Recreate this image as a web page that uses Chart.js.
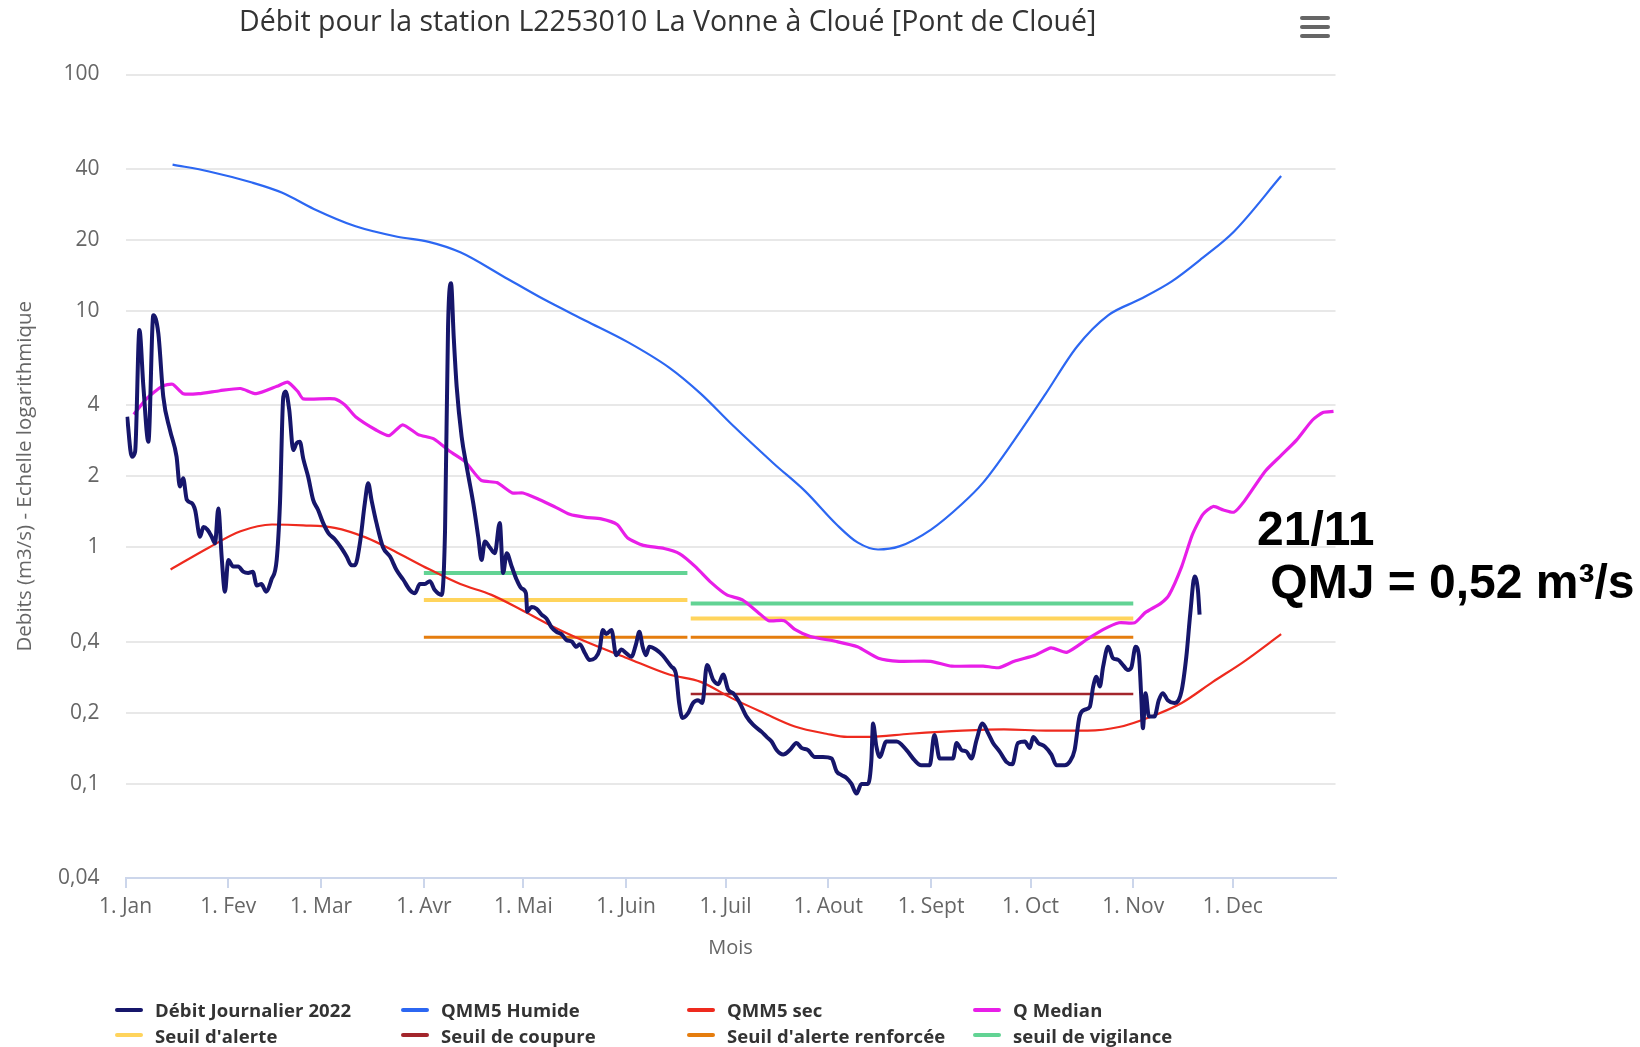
<!DOCTYPE html>
<html>
<head>
<meta charset="utf-8">
<script src="https://cdn.jsdelivr.net/npm/chart.js@4.4.1/dist/chart.umd.min.js"></script>
<style>
  body { margin: 0; background: #fff; width: 1640px; height: 1047px; overflow: hidden; position: relative; font-family: "Open Sans", sans-serif; }
  #wrap { position: absolute; left: 0; top: 0; width: 1340px; height: 1047px; }
  #menu { position: absolute; left: 1300px; top: 16px; width: 30px; }
  #menu span { display: block; height: 4px; background: #666; border-radius: 2px; margin-bottom: 5px; }
  #legend { position: absolute; left: 115px; top: 997px; display: grid; grid-template-columns: repeat(4, 286px); }
  .item { display: flex; align-items: center; height: 25.5px; font-weight: bold; font-size: 18.5px; color: #333; white-space: nowrap; letter-spacing: 0.1px; }
  .item i { display: inline-block; width: 28px; height: 4px; border-radius: 2px; margin-right: 12px; }
  #note { position: absolute; left: 1257px; top: 502px; font-family: "Liberation Sans", Arial, sans-serif; font-weight: bold; font-size: 48px; line-height: 53px; color: #000; white-space: pre; }
</style>
</head>
<body>
<div id="wrap"><canvas id="chart" width="1340" height="1047"></canvas></div>
<div id="menu"><span></span><span></span><span></span></div>
<div id="legend"></div>
<div id="note">21/11
 QMJ = 0,52 m³/s</div>
<script>
// axes
const monthDays = [0, 31, 59, 90, 120, 151, 181, 212, 243, 273, 304, 334];
const monthLabels = ["1. Jan", "1. Fev", "1. Mar", "1. Avr", "1. Mai", "1. Juin", "1. Juil", "1. Aout", "1. Sept", "1. Oct", "1. Nov", "1. Dec"];
const yTicks = [0.04, 0.1, 0.2, 0.4, 1, 2, 4, 10, 20, 40, 100];
const yTickLabels = ["0,04", "0,1", "0,2", "0,4", "1", "2", "4", "10", "20", "40", "100"];

// débit journalier 2022 (jour de l'année, m3/s)
const debitDays = [0.5, 1.9, 2.9, 4.2, 5.4, 6.9, 8.4, 9.9, 11.4, 13.4, 15.4, 16.4, 17.4, 18.5, 20, 21, 22.5, 23.5, 24.7, 26, 27, 28, 29, 30, 31, 32.5, 34, 35.5, 37, 38.4, 39.6, 41, 42.4, 44, 45.6, 46.6, 47.6, 48.3, 49.4, 50.6, 51.6, 52.6, 53.6, 55.1, 56.6, 58.1, 59.6, 61.2, 63.2, 65.2, 66.7, 68.2, 69.2, 70.7, 72.2, 73.2, 74.2, 75.7, 77.7, 79.8, 81.8, 83.8, 85.8, 87.3, 88.8, 90.3, 91.8, 93.3, 95.4, 96.4, 97.3, 98.2, 99, 99.9, 101.4, 102.9, 104.9, 106.4, 107.4, 108.4, 109.9, 111.4, 112.9, 113.9, 115, 116.5, 118, 119.5, 120.8, 121.2, 122.5, 124, 125.5, 127, 128.5, 130, 131.5, 133, 134.6, 136, 137, 138.6, 140, 141.6, 143, 144, 145, 146.6, 148, 149.6, 151, 152.6, 154, 155, 156, 157, 158, 160, 162, 164.7, 166, 167, 168, 169.7, 171.2, 172.7, 174, 175.4, 177.3, 178.8, 180.3, 181.8, 183.3, 185.3, 187.3, 189.3, 191.9, 193.4, 194.9, 196.4, 198.4, 200.4, 202.4, 203.9, 205.9, 207.9, 210.4, 213, 214.5, 216, 217.5, 219, 220.5, 222, 224, 225, 225.5, 226.5, 227.5, 229.5, 232.6, 235.6, 238, 240, 242.6, 244, 245.6, 247.6, 249.6, 250.7, 252.2, 253.7, 255.2, 256.7, 258.5, 260.2, 261.7, 263.7, 265.7, 267.5, 269.2, 271.3, 272.8, 273.8, 275.3, 277.3, 279.3, 280.8, 283.3, 284.8, 286.3, 287.8, 289.4, 290.9, 291.9, 292.9, 293.9, 294.9, 296.4, 297.9, 299.4, 300.9, 302.4, 303.4, 304.7, 305.7, 306.4, 306.9, 307.7, 308.7, 310.4, 311.7, 312.9, 314.4, 316.4, 318.5, 320, 321.2, 322.5, 323.5, 324];
const debitValues = [3.57, 2.42, 2.54, 8.3, 4.78, 2.8, 9.6, 8.05, 4.34, 3.14, 2.42, 1.81, 1.96, 1.59, 1.54, 1.44, 1.11, 1.22, 1.19, 1.11, 1.04, 1.46, 0.915, 0.65, 0.885, 0.83, 0.83, 0.79, 0.78, 0.79, 0.69, 0.70, 0.65, 0.73, 0.885, 1.54, 4.34, 4.56, 3.81, 2.58, 2.76, 2.8, 2.38, 1.99, 1.59, 1.44, 1.27, 1.15, 1.08, 0.99, 0.915, 0.84, 0.84, 1.04, 1.54, 1.87, 1.59, 1.27, 1.0, 0.915, 0.80, 0.73, 0.66, 0.64, 0.70, 0.70, 0.72, 0.66, 0.63, 1.2, 8.6, 13.1, 7.8, 4.78, 2.94, 2.2, 1.54, 1.11, 0.885, 1.06, 1.0, 0.945, 1.27, 0.78, 0.945, 0.83, 0.73, 0.67, 0.64, 0.535, 0.56, 0.55, 0.52, 0.50, 0.46, 0.44, 0.43, 0.406, 0.40, 0.38, 0.39, 0.357, 0.334, 0.34, 0.369, 0.448, 0.43, 0.448, 0.35, 0.37, 0.357, 0.345, 0.39, 0.44, 0.38, 0.35, 0.38, 0.37, 0.35, 0.313, 0.294, 0.22, 0.19, 0.199, 0.22, 0.226, 0.22, 0.318, 0.275, 0.264, 0.29, 0.25, 0.242, 0.22, 0.193, 0.178, 0.166, 0.158, 0.151, 0.139, 0.133, 0.139, 0.149, 0.142, 0.139, 0.13, 0.13, 0.128, 0.113, 0.109, 0.106, 0.1, 0.091, 0.1, 0.1, 0.126, 0.18, 0.144, 0.13, 0.151, 0.151, 0.139, 0.126, 0.12, 0.12, 0.161, 0.128, 0.128, 0.128, 0.149, 0.139, 0.137, 0.128, 0.153, 0.18, 0.164, 0.149, 0.137, 0.124, 0.121, 0.149, 0.151, 0.142, 0.158, 0.149, 0.144, 0.133, 0.12, 0.12, 0.124, 0.139, 0.193, 0.206, 0.212, 0.258, 0.284, 0.258, 0.313, 0.38, 0.34, 0.335, 0.318, 0.303, 0.31, 0.38, 0.35, 0.234, 0.172, 0.242, 0.193, 0.193, 0.226, 0.242, 0.226, 0.22, 0.245, 0.345, 0.527, 0.753, 0.66, 0.52];

// QMM5 humide
const humideDays = [14.2, 25.2, 37.9, 47.3, 56.8, 69.4, 82, 91.5, 101, 113.6, 126.2, 138.8, 151.4, 164, 173.5, 183, 195.6, 205, 214.5, 220.8, 227, 233.4, 243, 252.4, 258.7, 268, 277.6, 287, 296.5, 306, 315.5, 325, 334.4, 348.6];
const humideValues = [41.6, 38.9, 35, 31.6, 27, 22.8, 20.6, 19.6, 17.7, 14.1, 11.2, 9.1, 7.4, 5.76, 4.47, 3.3, 2.26, 1.73, 1.25, 1.05, 0.98, 1.01, 1.19, 1.53, 1.88, 2.83, 4.47, 7.06, 9.6, 11.2, 13.3, 16.8, 21.7, 37.2];

// QMM5 sec
const secDays = [13.6, 25.2, 34.7, 44.2, 53.6, 63.1, 72.6, 82, 91.5, 101, 110.4, 119.9, 129.3, 138.8, 151.4, 164, 173.5, 183, 192.4, 201.9, 211.4, 217.7, 224, 236.6, 252.4, 265, 277.6, 290.2, 299.7, 309.1, 318.6, 328, 337.5, 348.6];
const secValues = [0.807, 1.0, 1.17, 1.25, 1.24, 1.21, 1.1, 0.95, 0.81, 0.70, 0.63, 0.54, 0.46, 0.40, 0.34, 0.29, 0.27, 0.23, 0.20, 0.175, 0.163, 0.158, 0.158, 0.163, 0.168, 0.17, 0.168, 0.168, 0.174, 0.192, 0.22, 0.27, 0.33, 0.43];

// Q médian
const medianDays = [2.5, 6.3, 11, 14.2, 17.4, 22.1, 28.4, 34.7, 39.4, 45.7, 48.9, 52, 53.6, 63.1, 66.2, 69.4, 75.7, 79.5, 83.6, 88.3, 93, 97.8, 102.5, 107.3, 112, 116.7, 119.9, 124.6, 129.3, 134, 138.8, 143.5, 148.3, 151.4, 156.2, 162.5, 167.2, 171.9, 176.7, 181.4, 186.1, 190.9, 194, 198.7, 201.9, 206.6, 214.5, 220.8, 227.1, 233.4, 242.9, 249.2, 258.7, 263.4, 268.1, 274.4, 279.2, 283.9, 290.2, 295, 299.7, 304.4, 307.6, 312.3, 314.8, 318.6, 321.8, 325, 328.1, 331.2, 334.4, 337.5, 343.8, 348.6, 353.3, 358, 361.2, 364.4];
const medianValues = [3.65, 4.25, 4.8, 4.9, 4.47, 4.47, 4.6, 4.7, 4.47, 4.8, 5.0, 4.56, 4.25, 4.25, 4.0, 3.57, 3.13, 2.97, 3.3, 3.0, 2.88, 2.55, 2.3, 1.92, 1.88, 1.7, 1.7, 1.6, 1.49, 1.38, 1.34, 1.32, 1.25, 1.1, 1.02, 0.99, 0.94, 0.83, 0.71, 0.63, 0.6, 0.53, 0.49, 0.49, 0.45, 0.42, 0.40, 0.38, 0.34, 0.33, 0.33, 0.315, 0.315, 0.31, 0.33, 0.35, 0.376, 0.36, 0.41, 0.45, 0.48, 0.48, 0.53, 0.58, 0.63, 0.83, 1.13, 1.38, 1.49, 1.44, 1.41, 1.57, 2.1, 2.45, 2.85, 3.45, 3.72, 3.76];

// seuils : deux périodes (1/04 - 19/06, 20/06 - 31/10)
const seuilStarts = [90, 170.5];
const seuilEnds = [169.5, 304];
const alerteValues = [0.60, 0.50];
const coupureValues = [null, 0.24];
const renforceeValues = [0.417, 0.417];
const vigilanceValues = [0.78, 0.58];

function pts(days, values) {
    return days.map((d, i) => ({ x: d, y: values[i] }));
}

function seuil(values) {
    const out = [];
    values.forEach((v, i) => {
        if (v === null) return;
        out.push({ x: seuilStarts[i], y: v }, { x: seuilEnds[i], y: v }, { x: seuilEnds[i], y: null });
    });
    return out;
}

const series = [
    { label: "Débit Journalier 2022", data: pts(debitDays, debitValues), borderColor: "#16166b", borderWidth: 4, cubicInterpolationMode: "monotone" },
    { label: "QMM5 Humide", data: pts(humideDays, humideValues), borderColor: "#2c67f2", borderWidth: 2.2, cubicInterpolationMode: "monotone" },
    { label: "QMM5 sec", data: pts(secDays, secValues), borderColor: "#ee2a1e", borderWidth: 2.2, cubicInterpolationMode: "monotone" },
    { label: "Q Median", data: pts(medianDays, medianValues), borderColor: "#e81ee8", borderWidth: 3.2, tension: 0.2 },
    { label: "Seuil d'alerte", data: seuil(alerteValues), borderColor: "#ffd45c", borderWidth: 4 },
    { label: "Seuil de coupure", data: seuil(coupureValues), borderColor: "#a3262c", borderWidth: 2.5 },
    { label: "Seuil d'alerte renforcée", data: seuil(renforceeValues), borderColor: "#e57d0e", borderWidth: 3 },
    { label: "seuil de vigilance", data: seuil(vigilanceValues), borderColor: "#62d394", borderWidth: 4 }
];

series.forEach(s => {
    s.pointRadius = 0;
    s.fill = false;
    s.spanGaps = false;
    s.borderCapStyle = "butt";
});

const tickFont = { family: "Open Sans", size: 21 };

new Chart(document.getElementById("chart").getContext("2d"), {
    type: "line",
    data: { datasets: series },
    options: {
        responsive: false,
        animation: false,
        devicePixelRatio: 1,
        layout: { padding: { left: 0, right: 4.5, top: 0, bottom: 79 } },
        plugins: {
            legend: { display: false },
            tooltip: { enabled: false },
            title: {
                display: true,
                text: "Débit pour la station L2253010 La Vonne à Cloué [Pont de Cloué]",
                color: "#333",
                font: { family: "Open Sans", size: 28.5, weight: "normal" },
                padding: { top: 6, bottom: 34.3 }
            }
        },
        scales: {
            x: {
                type: "linear",
                min: 0,
                max: 365,
                afterBuildTicks: scale => { scale.ticks = monthDays.map(v => ({ value: v })); },
                afterFit: scale => { scale.height = 90; },
                ticks: {
                    callback: (v, i) => monthLabels[i],
                    color: "#666",
                    font: tickFont,
                    autoSkip: false,
                    maxRotation: 0,
                    padding: 6
                },
                grid: { drawOnChartArea: false, drawTicks: true, tickLength: 10, color: "#ccd6eb", lineWidth: 2 },
                border: { color: "#ccd6eb", width: 2 },
                title: { display: true, text: "Mois", color: "#666", font: { family: "Open Sans", size: 20 }, padding: { top: 0, bottom: 8 } }
            },
            y: {
                type: "logarithmic",
                min: 0.04,
                max: 100,
                afterBuildTicks: scale => { scale.ticks = yTicks.map(v => ({ value: v })); },
                afterFit: scale => { scale.width = 125.5; },
                ticks: {
                    callback: (v, i) => yTickLabels[i],
                    color: "#666",
                    font: tickFont,
                    autoSkip: false,
                    padding: 26
                },
                grid: { color: "#e8e8e8", lineWidth: 2, drawTicks: false },
                border: { display: false },
                title: { display: true, text: "Debits (m3/s) - Echelle logarithmique", color: "#666", font: { family: "Open Sans", size: 20.5 }, padding: { top: 12.5, bottom: 0 } }
            }
        }
    }
});

// legende
const legend = document.getElementById("legend");
series.forEach(s => {
    const item = document.createElement("div");
    item.className = "item";
    item.innerHTML = `<i style="background:${s.borderColor}"></i>${s.label}`;
    legend.appendChild(item);
});
</script>
</body>
</html>
